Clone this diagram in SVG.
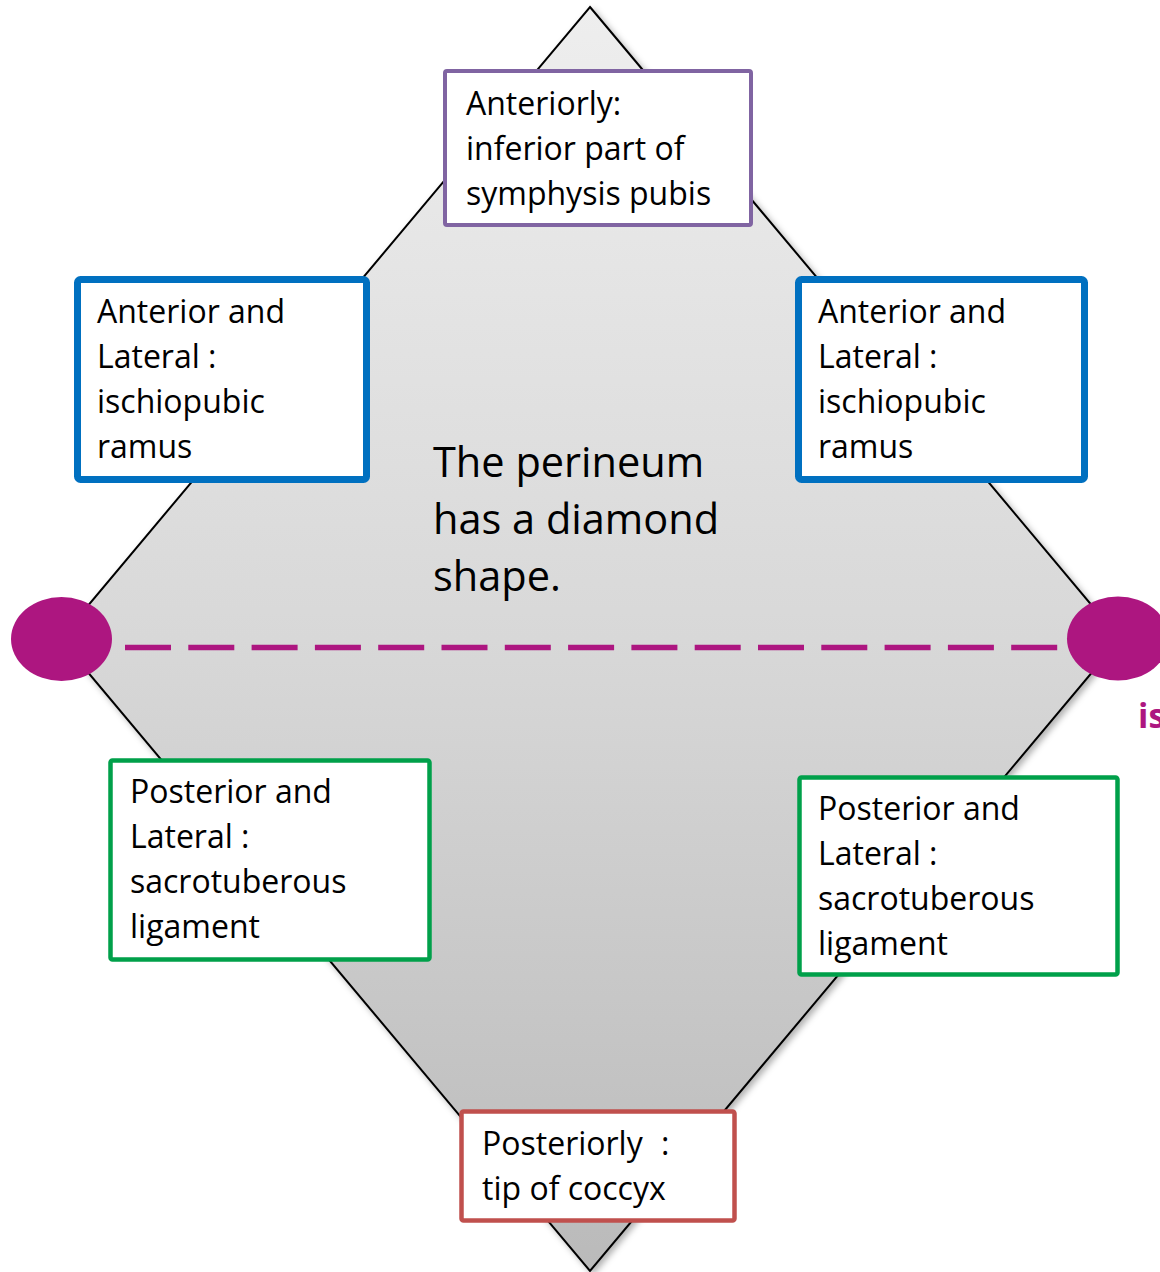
<svg xmlns="http://www.w3.org/2000/svg" width="1160" height="1272" viewBox="0 0 1160 1272">
<style>
.t{font-family:"Open Sans","Liberation Sans",sans-serif;font-size:32px;fill:#000}
.c{font-family:"Open Sans","Liberation Sans",sans-serif;font-size:41.5px;fill:#000}
.box{fill:#fff}
</style>
<defs>
<linearGradient id="g" x1="0" y1="0" x2="0" y2="1">
<stop offset="0" stop-color="#eeeeee"/>
<stop offset="0.5" stop-color="#d8d8d8"/>
<stop offset="1" stop-color="#bababa"/>
</linearGradient>
<filter id="sh" x="-5%" y="-5%" width="110%" height="110%">
<feDropShadow dx="3" dy="3" stdDeviation="3" flood-color="#000" flood-opacity="0.3"/>
</filter>
</defs>
<rect width="1160" height="1272" fill="#fff"/>
<g id="diamond">
<polygon points="590,7 1120,639 590,1271 60,639" fill="url(#g)" stroke="#000" stroke-width="2" filter="url(#sh)"/>
</g>
<g id="connectors">
<line x1="125" y1="647.5" x2="1058" y2="647.5" stroke="#ad1680" stroke-width="5.5" stroke-dasharray="46 17.3"/>
</g>
<g id="ischial-left"><ellipse cx="61.5" cy="639" rx="50.5" ry="42" fill="#ad1680"/></g>
<g id="ischial-right"><ellipse cx="1118" cy="638.5" rx="51" ry="42" fill="#ad1680"/>
<text x="1138" y="728" font-family="Open Sans, Liberation Sans, sans-serif" font-size="34" font-weight="bold" fill="#ad1680">is</text></g>
<g id="center-text">
<text class="c" x="433" y="477">The perineum</text>
<text class="c" x="433" y="534">has a diamond</text>
<text class="c" x="433" y="591">shape.</text>
</g>
<g id="top">
<rect class="box" x="445" y="71" width="306" height="154" rx="2" stroke="#8064a2" stroke-width="4"/>
<text class="t" x="466" y="115">Anteriorly:</text>
<text class="t" x="466" y="160">inferior part of</text>
<text class="t" x="466" y="205">symphysis pubis</text>
</g>
<g id="left-anterior">
<rect class="box" x="77.5" y="279.5" width="289" height="200" rx="3" stroke="#0070c0" stroke-width="7"/>
<text class="t" x="97" y="323">Anterior and</text>
<text class="t" x="97" y="368">Lateral :</text>
<text class="t" x="97" y="413">ischiopubic</text>
<text class="t" x="97" y="458">ramus</text>
</g>
<g id="right-anterior">
<rect class="box" x="798.5" y="279.5" width="286" height="200" rx="3" stroke="#0070c0" stroke-width="7"/>
<text class="t" x="818" y="323">Anterior and</text>
<text class="t" x="818" y="368">Lateral :</text>
<text class="t" x="818" y="413">ischiopubic</text>
<text class="t" x="818" y="458">ramus</text>
</g>
<g id="left-posterior">
<rect class="box" x="110.5" y="760.5" width="319" height="199" rx="2" stroke="#00a04a" stroke-width="4.5"/>
<text class="t" x="130" y="803">Posterior and</text>
<text class="t" x="130" y="848">Lateral :</text>
<text class="t" x="130" y="893">sacrotuberous</text>
<text class="t" x="130" y="938">ligament</text>
</g>
<g id="right-posterior">
<rect class="box" x="799.5" y="777.5" width="318" height="197" rx="2" stroke="#00a04a" stroke-width="4.5"/>
<text class="t" x="818" y="820">Posterior and</text>
<text class="t" x="818" y="865">Lateral :</text>
<text class="t" x="818" y="910">sacrotuberous</text>
<text class="t" x="818" y="955">ligament</text>
</g>
<g id="bottom">
<rect class="box" x="461.5" y="1111.5" width="273" height="109" rx="2" stroke="#c0504d" stroke-width="4.5"/>
<text class="t" x="482" y="1155">Posteriorly</text>
<text class="t" x="661" y="1155">:</text>
<text class="t" x="482" y="1200">tip of coccyx</text>
</g>
</svg>
